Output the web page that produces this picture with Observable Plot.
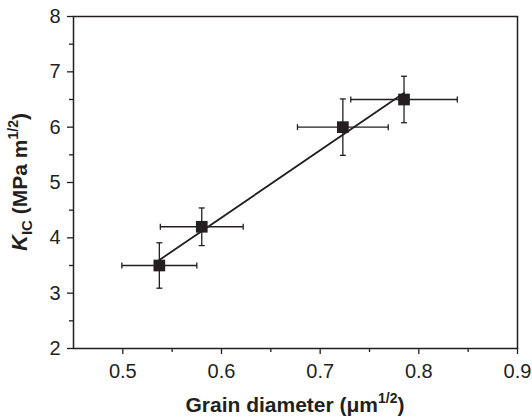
<!DOCTYPE html>
<html><head>
<meta charset="utf-8">
<script src="https://cdn.jsdelivr.net/npm/d3@7"></script>
<script src="https://cdn.jsdelivr.net/npm/@observablehq/plot@0.6"></script>
<style>body{margin:0;background:#fff}</style>
</head><body><div id="chart"></div>
<script>
const grainDiameter = [0.537, 0.580, 0.723, 0.785];
const grainError = [0.038, 0.042, 0.046, 0.054];
const kic = [3.5, 4.2, 6.0, 6.5];
const kicError = [0.41, 0.34, 0.51, 0.42];
const xTicks = [0.5, 0.6, 0.7, 0.8, 0.9];
const xMinor = [0.55, 0.65, 0.75, 0.85];
const yTicks = [2, 3, 4, 5, 6, 7, 8];
const yMinor = [2.5, 3.5, 4.5, 5.5, 6.5, 7.5];

const data = grainDiameter.map((x, i) => ({x, y: kic[i], ex: grainError[i], ey: kicError[i]}));
const ink = "#231f20";
const capV = {draw(ctx, size) { const r = Math.sqrt(size / Math.PI); ctx.moveTo(0, -r); ctx.lineTo(0, r); }};
const capH = {draw(ctx, size) { const r = Math.sqrt(size / Math.PI); ctx.moveTo(-r, 0); ctx.lineTo(r, 0); }};

const plot = Plot.plot({
  width: 532, height: 418,
  marginLeft: 73, marginRight: 15, marginTop: 16, marginBottom: 70,
  style: {fontFamily: "'Liberation Sans', Arial, sans-serif", fontSize: "20px", color: ink, background: "#fff"},
  x: {domain: [0.45, 0.9]},
  y: {domain: [2, 8]},
  marks: [
    Plot.axisX({ticks: xTicks, tickSize: 6, tickPadding: 9, label: null, tickFormat: d => d.toFixed(1), stroke: ink, strokeWidth: 1.3}),
    Plot.axisX({ticks: xMinor, tickSize: 4, label: null, tickFormat: () => "", stroke: ink, strokeWidth: 1.3}),
    Plot.axisY({ticks: yTicks, tickSize: 6, tickPadding: 7, label: null, tickFormat: d => String(d), stroke: ink, strokeWidth: 1.3}),
    Plot.axisY({ticks: yMinor, tickSize: 4, label: null, tickFormat: () => "", stroke: ink, strokeWidth: 1.3}),
    Plot.frame({stroke: ink, strokeWidth: 1.5}),
    Plot.link(data, {x1: d => d.x - d.ex, x2: d => d.x + d.ex, y1: "y", y2: "y", stroke: ink, strokeWidth: 1.3}),
    Plot.link(data, {x1: "x", x2: "x", y1: d => d.y - d.ey, y2: d => d.y + d.ey, stroke: ink, strokeWidth: 1.3}),
    Plot.dot(data, {x: d => d.x - d.ex, y: "y", symbol: capV, r: 3, stroke: ink, strokeWidth: 1.3, fill: "none"}),
    Plot.dot(data, {x: d => d.x + d.ex, y: "y", symbol: capV, r: 3, stroke: ink, strokeWidth: 1.3, fill: "none"}),
    Plot.dot(data, {x: "x", y: d => d.y - d.ey, symbol: capH, r: 3, stroke: ink, strokeWidth: 1.3, fill: "none"}),
    Plot.dot(data, {x: "x", y: d => d.y + d.ey, symbol: capH, r: 3, stroke: ink, strokeWidth: 1.3, fill: "none"}),
    Plot.linearRegressionY(data, {x: "x", y: "y", ci: 0, stroke: ink, strokeWidth: 1.8}),
    Plot.dot(data, {x: "x", y: "y", symbol: "square", r: 6.6, fill: ink, stroke: "none"})
  ]
});
document.getElementById("chart").appendChild(plot);

const svg = d3.select(plot);
const xt = svg.append("text")
  .attr("x", 295).attr("y", 412)
  .attr("text-anchor", "middle")
  .attr("fill", ink)
  .style("font-weight", "bold").style("font-size", "21px");
xt.append("tspan").text("Grain diameter (μm");
xt.append("tspan").attr("dy", -9).style("font-size", "14px").text("1/2");
xt.append("tspan").attr("dy", 9).text(")");

const yt = svg.append("text")
  .attr("transform", "translate(27,182) rotate(-90)")
  .attr("text-anchor", "middle")
  .attr("fill", ink)
  .style("font-weight", "bold").style("font-size", "21px");
yt.append("tspan").style("font-style", "italic").style("font-size", "22px").text("K");
yt.append("tspan").attr("dy", 5).style("font-size", "15px").text("IC");
yt.append("tspan").attr("dy", -5).text(" (MPa m");
yt.append("tspan").attr("dy", -9).style("font-size", "14px").text("1/2");
yt.append("tspan").attr("dy", 9).text(")");
</script>
</body></html>
